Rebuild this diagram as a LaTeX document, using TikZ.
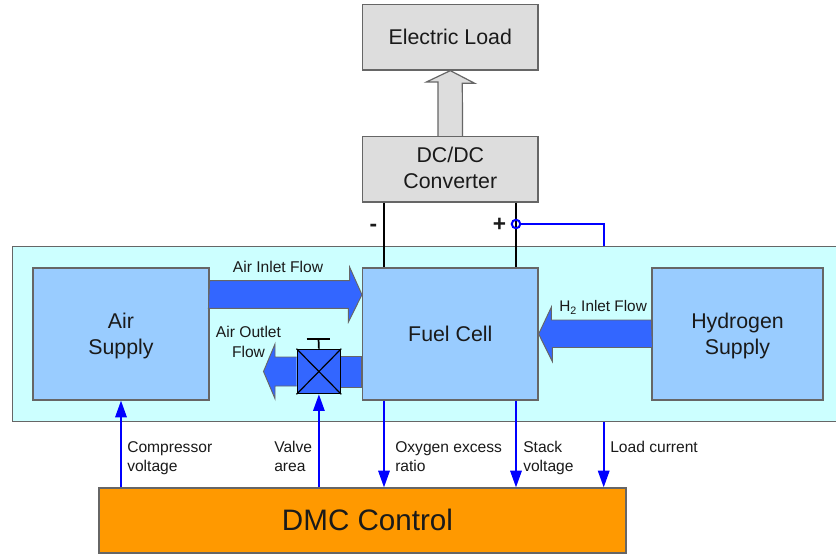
\documentclass[tikz,border=0pt]{standalone}
\usepackage{fontspec}
\setmainfont{Liberation Sans}
\usetikzlibrary{arrows.meta}
\definecolor{bgcyan}{HTML}{CCFFFF}
\definecolor{boxblue}{HTML}{99CCFF}
\definecolor{flowblue}{HTML}{3366FF}
\definecolor{graybox}{HTML}{DDDDDD}
\definecolor{edgegray}{HTML}{666666}
\definecolor{ctrlorange}{HTML}{FF9900}
\definecolor{txt}{HTML}{1A1A1A}
\newcommand{\pxbox}[1]{#1*0.75pt}
\tikzset{
  x=0.75pt,y=-0.75pt,
  panel/.style={draw=edgegray,line width=1.1pt,fill=bgcyan,inner sep=0pt},
  block/.style={draw=edgegray,line width=0.9pt,fill=boxblue,inner sep=0pt},
  graybl/.style={block,fill=graybox},
  blocktext/.style={inner sep=0pt,align=center,text=txt,font=\fontsize{16}{19.5}\selectfont},
  ctrl/.style={draw=edgegray,line width=0.9pt,fill=ctrlorange,inner sep=0pt},
  ctrltext/.style={inner sep=0pt,text=txt,font=\fontsize{22.2}{26}\selectfont},
  flow/.style={draw=edgegray,line width=0.7pt,fill=flowblue,line join=miter},
  flowlight/.style={draw=edgegray,line width=0.9pt,fill=graybox},
  wire/.style={draw=black,line width=1.5pt},
  sig/.style={draw=blue,line width=1.5pt},
  sigarrow/.style={sig,-{Triangle[length=12.5pt,width=8.5pt]}},
  lab/.style={inner sep=0pt,align=left,anchor=west,text=txt,font=\fontsize{11.7}{14.3}\selectfont},
  flowlab/.style={inner sep=0pt,align=center,text=txt,font=\fontsize{11.7}{15}\selectfont},
}
\begin{document}
\begin{tikzpicture}
\useasboundingbox (0,0) rectangle (836,556);
\fill[white] (0,0) rectangle (836,556);

% panel runs off the right edge
\node[panel,anchor=north west,minimum width=\pxbox{840},minimum height=\pxbox{175}] (panel) at (11.5,246) {};
\useasboundingbox (0,0) rectangle (836,556);

\node[graybl,minimum width=\pxbox{175.5},minimum height=\pxbox{65.5}] (load) at (450.3,37.3) {};
\node[graybl,minimum width=\pxbox{175.5},minimum height=\pxbox{65.5}] (conv) at (450.3,169.3) {};
\node[block,minimum width=\pxbox{176},minimum height=\pxbox{132}] (air) at (121,334) {};
\node[block,minimum width=\pxbox{175.5},minimum height=\pxbox{132}] (fc) at (450.3,334) {};
\node[block,minimum width=\pxbox{171},minimum height=\pxbox{132}] (h2) at (737.5,334) {};
\node[ctrl,minimum width=\pxbox{527},minimum height=\pxbox{65}] (dmc) at (362.5,520.5) {};

\node[blocktext] (loadT) at (450.3,37.3) {Electric Load};
\node[blocktext] (convT) at (450.3,168.3) {DC/DC\\Converter};
\node[blocktext] (airT) at (121,336) {Air\\Supply};
\node[blocktext] (fcT) at (450.3,334) {Fuel Cell};
\node[blocktext] (h2T) at (737.5,336) {Hydrogen\\Supply};
\node[ctrltext] (dmcT) at (367.5,519.5) {DMC Control};

% power arrow: converter to load
\coordinate (up) at (conv.north);
\draw[flowlight] ([xshift=-9.2pt]up) -- ++(0,-54) -- ++(-11.5,0) -- (load.south) -- ++(24.5,12.7) -- ++(-12.5,0) -- ([xshift=9.2pt]up);

% air inlet flow
\coordinate (ai) at (air.east |- 0,294.7);
\draw[flow] (ai) ++(0,-14) -- ++(140,0) -- ++(0,-13.7) -- (fc.west |- ai) -- ++(-13.5,27.3) -- ++(0,-13.7) -- ++(-140,0) -- cycle;

% hydrogen flow
\coordinate (hi) at (h2.west |- 0,334);
\draw[flow] (hi) ++(0,-14) -- ++(-100,0) -- ++(0,-13) -- (fc.east |- hi) -- ++(13.7,27.5) -- ++(0,-14) -- ++(100,0) -- cycle;

% air outlet flow with valve
\draw[flow] (fc.west |- 0,356) -- (340,356) -- (340,387) -- (fc.west |- 0,387) -- cycle;
\node[draw=black,line width=0.9pt,fill=flowblue,inner sep=0pt,minimum width=\pxbox{43.6},minimum height=\pxbox{44.4}] (valve) at (318.9,371.5) {};
\draw[flow] (valve.west |- 0,357) -- (275,357) -- (275,344) -- (263.5,371.5) -- (275,398.7) -- (275,386) -- (valve.west |- 0,386);
\draw[black,line width=0.9pt] (valve.north west) -- (valve.south east) (valve.north east) -- (valve.south west);
\node[inner sep=0pt,minimum width=\pxbox{23},minimum height=0pt] (handle) at (318.5,338.5) {};
\draw[black,line width=1.5pt] (handle.west) -- (handle.east);
\draw[black,line width=1.3pt] (handle.center) -- (valve.north);

% power wires
\coordinate (minusT) at (conv.south -| 384,0);
\coordinate (plusT) at (conv.south -| 516,0);
\draw[wire] (minusT) -- (fc.north -| minusT);
\draw[wire] (plusT) -- (fc.north -| plusT);
\node[circle,draw=blue,line width=1.5pt,fill=none,inner sep=0pt,minimum size=\pxbox{8.5}] (probe) at (516,224) {};
\coordinate (probeEnd) at (603.7,246);
\draw[sig] (probe.east) -| (probeEnd);

% signal lines
\draw[sigarrow] (dmc.north -| air.south) -- (air.south);
\draw[sigarrow] (dmc.north -| valve.south) -- (valve.south);
\draw[sigarrow] (fc.south -| minusT) -- (dmc.north -| minusT);
\draw[sigarrow] (fc.south -| plusT) -- (dmc.north -| plusT);
\draw[sigarrow] (panel.south -| probeEnd) -- (dmc.north -| probeEnd);

% labels
\node[inner sep=0pt,font=\fontsize{17}{20}\bfseries\selectfont,text=txt] (minus) at (373.5,228) {-};
\node[inner sep=0pt,font=\fontsize{17}{20}\bfseries\selectfont,text=txt] (plus) at (499.5,224.5) {+};
\node[flowlab] (l1) at (278,266.5) {Air Inlet Flow};
\node[flowlab] (l2) at (248.5,341.5) {Air Outlet\\Flow};
\node[flowlab,anchor=west,font=\fontsize{11.5}{15}\selectfont] (l3) at (559,307.5) {H\textsubscript{2} Inlet Flow};
\node[lab] at (127,458.5) {Compressor\strut\\voltage\strut};
\node[lab] at (274,458.5) {Valve\strut\\area\strut};
\node[lab] at (395,458.5) {Oxygen excess\strut\\ratio\strut};
\node[lab] at (523,458.5) {Stack\strut\\voltage\strut};
\node[lab] at (610,448.2) {Load current\strut};
\end{tikzpicture}
\end{document}
